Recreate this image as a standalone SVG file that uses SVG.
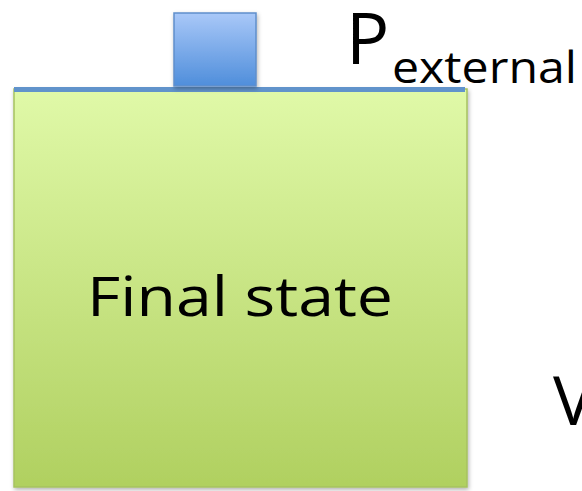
<svg xmlns="http://www.w3.org/2000/svg" width="582" height="491" viewBox="0 0 582 491">
  <defs>
    <linearGradient id="gasFill" x1="0" y1="0" x2="0" y2="1">
      <stop offset="0" stop-color="#e0f9a8"/>
      <stop offset="1" stop-color="#b0d060"/>
    </linearGradient>
    <linearGradient id="weightFill" x1="0" y1="0" x2="0" y2="1">
      <stop offset="0" stop-color="#a9c8f8"/>
      <stop offset="1" stop-color="#4f8edb"/>
    </linearGradient>
    <filter id="shadow" x="-10%" y="-10%" width="120%" height="120%">
      <feDropShadow dx="1" dy="2" stdDeviation="2" flood-color="#000" flood-opacity="0.3"/>
    </filter>
  </defs>
  <style>
    .lbl { font-family: "Open Sans", "Liberation Sans", sans-serif; fill: #000; }
  </style>

  <g id="container">
    <rect x="14" y="89" width="453" height="398" fill="url(#gasFill)" stroke="#a6c260" stroke-width="1.5" filter="url(#shadow)"/>
    <text class="lbl" x="240" y="316" font-size="54" text-anchor="middle" textLength="306" lengthAdjust="spacingAndGlyphs">Final state</text>
  </g>

  <g id="piston">
    <rect x="14" y="87" width="451" height="5" fill="#6193cb"/>
  </g>

  <g id="weight">
    <rect x="174" y="13" width="82" height="73" fill="url(#weightFill)" stroke="#5f8fcb" stroke-width="1.5" filter="url(#shadow)"/>
  </g>

  <g id="pressure-label">
    <text class="lbl" x="346" y="64" font-size="72">P</text>
    <text class="lbl" x="392" y="83" font-size="44" textLength="185" lengthAdjust="spacingAndGlyphs">external</text>
  </g>

  <g id="volume-label">
    <text class="lbl" x="553" y="425" font-size="68">V</text>
  </g>
</svg>
